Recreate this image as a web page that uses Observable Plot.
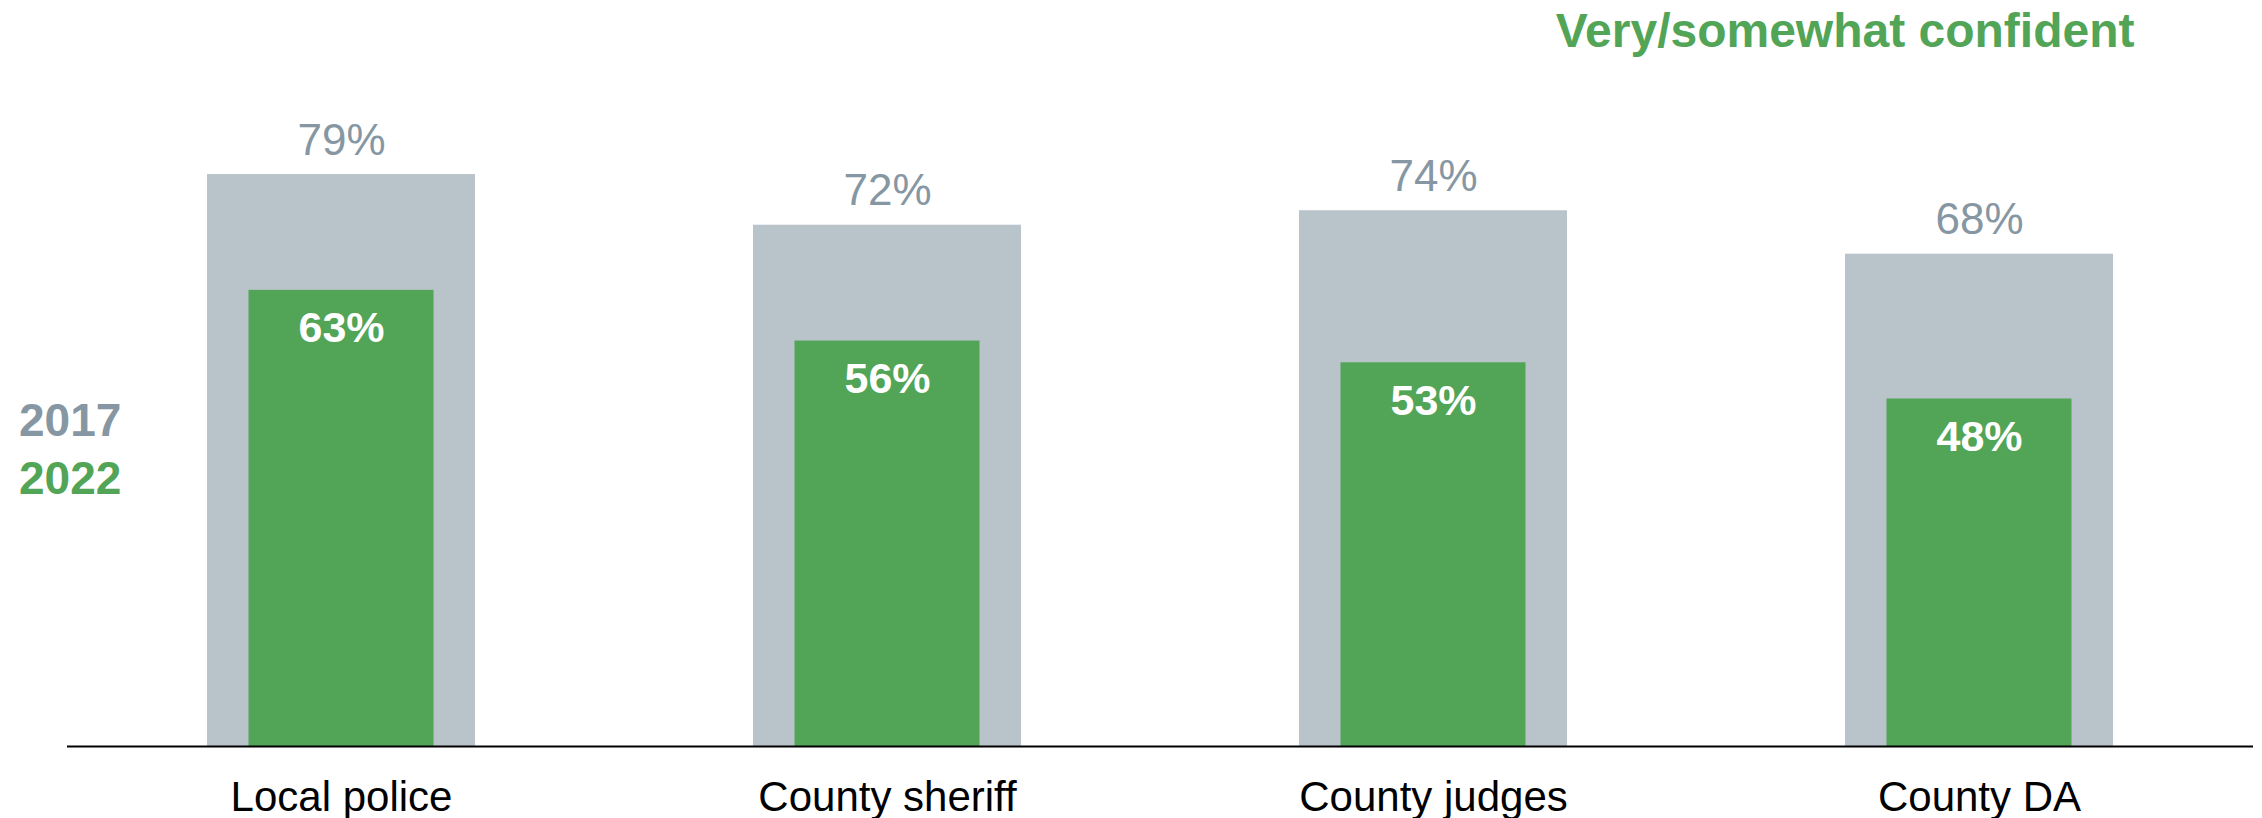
<!DOCTYPE html>
<html>
<head>
<meta charset="utf-8">
<script src="https://cdn.jsdelivr.net/npm/d3@7"></script>
<script src="https://cdn.jsdelivr.net/npm/@observablehq/plot@0.6"></script>
<style>
  html, body { margin: 0; padding: 0; background: #ffffff; }
  #chart svg { display: block; }
</style>
</head>
<body>
<div id="chart"></div>
<script>
const categories = ["Local police", "County sheriff", "County judges", "County DA"];
const values2017 = [79, 72, 74, 68];
const values2022 = [63, 56, 53, 48];
const seriesLabels = ["2017", "2022"];
const titleText = ["Very/somewhat confident"];

const GRAY_BAR = "#b9c4ca";
const GRAY_TEXT = "#8697a3";
const GREEN = "#52a457";
const FONT = "'Liberation Sans', Arial, Helvetica, sans-serif";

const rows = categories.map((c, i) => ({cat: c, v2017: values2017[i], v2022: values2022[i]}));

const chart = Plot.plot({
  width: 2262,
  height: 818,
  marginTop: 22,
  marginBottom: 72,
  marginLeft: 67,
  marginRight: 9,
  style: {fontFamily: FONT, background: "#ffffff"},
  x: {domain: categories, padding: 0, axis: null},
  y: {domain: [0, 100], axis: null},
  marks: [
    Plot.barY(rows, {x: "cat", y: "v2017", fill: GRAY_BAR, insetLeft: 139, insetRight: 139}),
    Plot.barY(rows, {x: "cat", y: "v2022", fill: GREEN, insetLeft: 180.5, insetRight: 180.5}),
    Plot.ruleY([0], {stroke: "#000000", strokeWidth: 2}),
    Plot.text(rows, {x: "cat", y: "v2017", text: d => d.v2017 + "%", fill: GRAY_TEXT,
      fontSize: 44, lineAnchor: "bottom", dy: -20}),
    Plot.text(rows, {x: "cat", y: "v2022", text: d => d.v2022 + "%", fill: "#ffffff",
      fontSize: 43, fontWeight: "bold", lineAnchor: "bottom", dy: 52}),
    Plot.text(rows, {x: "cat", y: () => 0, text: "cat", fill: "#000000",
      fontSize: 42, lineAnchor: "bottom", dy: 64}),
    Plot.text(titleText, {frameAnchor: "top-right", text: d => d, fill: GREEN,
      fontSize: 48, fontWeight: "bold", textAnchor: "end", lineAnchor: "bottom", dx: -119, dy: 24}),
    Plot.text([seriesLabels[0]], {frameAnchor: "top-left", text: d => d, fill: GRAY_TEXT,
      fontSize: 46, fontWeight: "bold", textAnchor: "start", lineAnchor: "bottom", dx: -48.5, dy: 413}),
    Plot.text([seriesLabels[1]], {frameAnchor: "top-left", text: d => d, fill: GREEN,
      fontSize: 46, fontWeight: "bold", textAnchor: "start", lineAnchor: "bottom", dx: -48.5, dy: 471.5})
  ]
});
document.getElementById("chart").appendChild(chart);
</script>
</body>
</html>
